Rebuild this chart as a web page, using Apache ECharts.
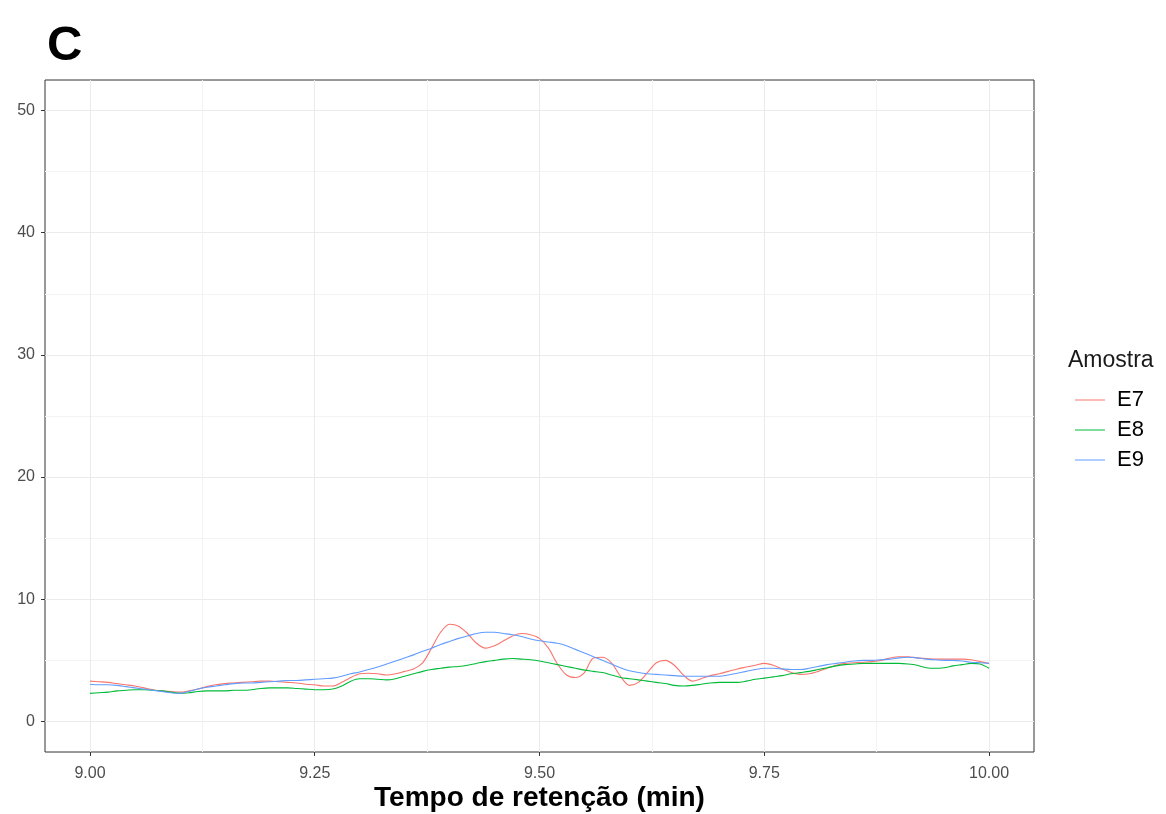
<!DOCTYPE html>
<html>
<head>
<meta charset="utf-8">
<script src="https://cdn.jsdelivr.net/npm/echarts@6/dist/echarts.min.js"></script>
<style>
html,body{margin:0;padding:0;background:#fff;}
#chart{width:1166px;height:814px;}
</style>
</head>
<body>
<div id="chart"></div>
<script>
// Retention time (min), 9.00 .. 10.00 step 0.01
const times = [];
for (let k = 0; k <= 100; k++) times.push(+(9 + k / 100).toFixed(2));

const E7 = [3.3,3.25,3.2,3.1,3.0,2.9,2.75,2.6,2.5,2.45,
  2.4,2.5,2.65,2.85,3.0,3.1,3.15,3.2,3.25,3.3,
  3.3,3.25,3.2,3.15,3.05,3.0,2.9,2.9,3.2,3.6,
  3.9,3.95,3.9,3.8,3.9,4.1,4.3,4.8,6.0,7.3,
  7.95,7.8,7.2,6.4,6.0,6.2,6.6,7.0,7.2,7.1,
  6.8,6.0,4.7,3.8,3.6,4.0,5.2,5.25,4.8,3.7,
  2.95,3.2,4.0,4.8,5.0,4.6,3.8,3.3,3.5,3.75,
  3.9,4.1,4.3,4.45,4.6,4.75,4.6,4.3,4.0,3.85,
  3.9,4.1,4.35,4.6,4.75,4.8,4.85,4.9,5.0,5.2,
  5.3,5.3,5.2,5.15,5.1,5.1,5.1,5.1,5.05,4.9,4.75];

const E8 = [2.3,2.35,2.4,2.5,2.55,2.6,2.6,2.55,2.5,2.4,
  2.3,2.35,2.45,2.5,2.5,2.5,2.55,2.55,2.6,2.7,
  2.75,2.75,2.75,2.7,2.65,2.6,2.6,2.65,2.9,3.3,
  3.5,3.5,3.45,3.4,3.5,3.7,3.9,4.1,4.25,4.35,
  4.45,4.5,4.6,4.75,4.9,5.0,5.1,5.15,5.1,5.05,
  4.95,4.8,4.65,4.5,4.35,4.2,4.1,4.0,3.8,3.6,
  3.5,3.4,3.3,3.2,3.1,2.95,2.9,2.95,3.05,3.15,
  3.2,3.2,3.2,3.3,3.45,3.55,3.65,3.75,3.9,4.0,
  4.1,4.25,4.4,4.55,4.65,4.7,4.75,4.75,4.75,4.75,
  4.75,4.7,4.6,4.4,4.35,4.4,4.55,4.65,4.75,4.7,4.35];

const E9 = [3.05,3.0,3.0,2.95,2.85,2.75,2.65,2.55,2.45,2.35,
  2.3,2.45,2.65,2.8,2.9,3.0,3.1,3.15,3.15,3.2,
  3.25,3.3,3.35,3.35,3.4,3.45,3.5,3.55,3.7,3.9,
  4.05,4.25,4.45,4.7,4.95,5.2,5.45,5.75,6.0,6.3,
  6.55,6.8,7.0,7.2,7.3,7.3,7.2,7.1,6.95,6.75,
  6.6,6.5,6.4,6.2,5.9,5.6,5.3,5.0,4.7,4.4,
  4.15,4.0,3.9,3.85,3.8,3.75,3.7,3.7,3.7,3.7,
  3.7,3.8,3.95,4.1,4.25,4.35,4.35,4.3,4.25,4.25,
  4.35,4.5,4.65,4.75,4.85,4.95,5.0,5.0,5.05,5.1,
  5.2,5.25,5.2,5.1,5.05,5.0,5.0,4.95,4.85,4.8,4.75];

const seriesNames = ['E7','E8','E9'];
const seriesColors = ['#F8766D','#00BA38','#619CFF'];
const xTickLabels = [9.00, 9.25, 9.50, 9.75, 10.00];
const yTickLabels = [0, 10, 20, 30, 40, 50];

const pairs = arr => arr.map((v, i) => [times[i], v]);
const allSeries = [E7, E8, E9];

const T = 'rgba(0,0,0,0)';
const MAJ = '#EBEBEB';
const MIN = '#F3F3F3';
const FONT = 'Liberation Sans, Arial, sans-serif';

const chart = echarts.init(document.getElementById('chart'), null, {renderer: 'canvas'});
chart.setOption({
  backgroundColor: '#ffffff',
  animation: false,
  title: [
    {text: 'C', left: 42, top: 17, textStyle: {fontFamily: FONT, fontSize: 49, fontWeight: 'bold', color: '#000'}},
    {text: 'Amostra', left: 1063, top: 344, textStyle: {fontFamily: FONT, fontSize: 23, fontWeight: 'normal', color: '#1a1a1a'}}
  ],
  legend: {
    orient: 'vertical', left: 1070, top: 384,
    icon: 'rect', itemWidth: 30, itemHeight: 1, itemGap: 8,
    data: seriesNames,
    textStyle: {fontFamily: FONT, fontSize: 22, color: '#000', padding: [0,0,0,7]}
  },
  grid: {left: 45, right: 132, top: 80, bottom: 62, outerBoundsMode: 'none', containLabel: false,
    show: true, borderColor: '#333', borderWidth: 1, backgroundColor: '#fff'},
  xAxis: [{
    type: 'value', min: 8.95, max: 10.05, interval: 0.025,
    name: 'Tempo de retenção (min)', nameLocation: 'middle', nameGap: 32,
    nameTextStyle: {fontFamily: FONT, fontSize: 28, fontWeight: 'bold', color: '#000'},
    axisLine: {show: false, onZero: false},
    axisTick: {show: false},
    axisLabel: {show: false},
    splitLine: {show: true, lineStyle: {width: 1, color: [T,T,MAJ,T,T,T,T,MIN,T,T]}}
  }, {
    type: 'value', min: 8.95, max: 10.05, position: 'bottom',
    axisLine: {show: false, onZero: false},
    axisTick: {show: true, length: 4, lineStyle: {color: '#333'}, customValues: xTickLabels},
    axisLabel: {show: true, margin: 14, fontFamily: FONT, fontSize: 16, color: '#4D4D4D', customValues: xTickLabels,
      formatter: v => v.toFixed(2)},
    splitLine: {show: false}
  }],
  yAxis: [{
    type: 'value', min: -2.5, max: 52.5, interval: 2.5,
    axisLine: {show: false, onZero: false},
    axisTick: {show: false},
    axisLabel: {show: false},
    splitLine: {show: true, lineStyle: {width: 1, color: [T,MAJ,T,MIN]}}
  }, {
    type: 'value', min: -2.5, max: 52.5, position: 'left',
    axisLine: {show: false, onZero: false},
    axisTick: {show: true, length: 4, lineStyle: {color: '#333'}, customValues: yTickLabels},
    axisLabel: {show: true, margin: 10, fontFamily: FONT, fontSize: 16, color: '#4D4D4D', customValues: yTickLabels},
    splitLine: {show: false}
  }],
  series: allSeries.map((arr, i) => ({
    name: seriesNames[i], type: 'line', data: pairs(arr),
    xAxisIndex: 0, yAxisIndex: 0,
    showSymbol: false, symbol: 'none', smooth: 0.3,
    lineStyle: {width: 1.1, color: seriesColors[i]},
    itemStyle: {color: seriesColors[i]}
  }))
});
</script>
</body>
</html>
